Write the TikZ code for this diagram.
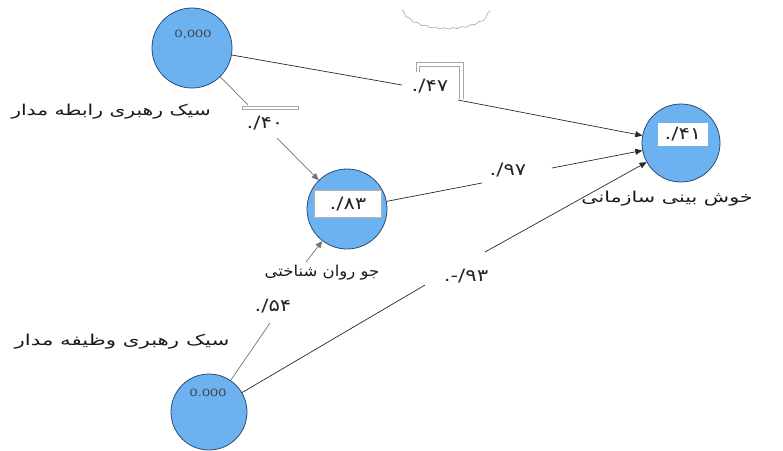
\documentclass[tikz,border=0pt]{standalone}
\usepackage{fontspec}
\newfontfamily\fa[Script=Arabic]{DejaVu Sans}
\newfontfamily\fanum{DejaVu Sans}
\TeXXeTstate=1
\usetikzlibrary{arrows.meta,decorations.pathmorphing}
\definecolor{cfill}{RGB}{108,178,240}
\definecolor{cdraw}{RGB}{45,75,115}
\definecolor{lline}{RGB}{40,40,40}
\newcommand{\cf}[1]{\scalebox{1.25}[1]{#1}}
\newcommand{\vl}[1]{\scalebox{1.5}[1]{#1}}
\tikzset{
  latent/.style={circle, minimum size=80pt, inner sep=0pt, fill=cfill, draw=cdraw, line width=0.8pt},
  lab/.style={font=\fa\fontsize{15}{17}\selectfont, inner sep=0pt, text=black!90},
  coef/.style={font=\fanum\fontsize{17}{19}\selectfont, inner sep=0pt, text=black!85},
  val/.style={font=\sffamily\fontsize{11}{12}\selectfont, inner sep=0pt, text=black!75},
  conn/.style={draw=lline, line width=0.7pt},
  arr/.style={conn, -{Triangle[length=7pt,width=6pt]}},
  ghost/.style={draw=black!35, line width=0.6pt}
}
\begin{document}
\begin{tikzpicture}[x=1pt,y=-1pt]
\useasboundingbox (0,0) rectangle (783,450);
% faint background cloud arc
\draw[ghost, decorate, decoration={snake, amplitude=0.7pt, segment length=9pt}]
  (402,10) .. controls (414,32) and (478,32) .. (490,10);
% latent variables
\node[latent] (A) at (192,48) {};
\node[latent, minimum size=76pt] (B) at (209,412) {};
\node[latent] (M) at (347,209) {};
\node[latent, minimum size=78pt] (T) at (681,143) {};
% inner values
\node[val] (vA) at (193,34) {\vl{0,000}};
\node[val] (vB) at (208,393) {\vl{0.000}};
\node[fill=white, draw=black!30, line width=0.3pt, minimum width=67pt, minimum height=27pt, inner sep=0pt] (bM) at (348,204) {};
\node[coef] (vM) at (348,204) {\cf{./۸۳}};
\node[fill=white, minimum width=50pt, minimum height=23pt, inner sep=0pt] (bT) at (683,134) {};
\node[coef] (vT) at (683,134) {\cf{./۴۱}};
% names
\node[lab] (labA) at (111,112) {\scalebox{1.35}[1]{\beginR سیک رهبری رابطه مدار\endR}};
\node[lab] (labB) at (122,342) {\scalebox{1.42}[1]{\beginR سیک رهبری وظیفه مدار\endR}};
\node[lab] (labM) at (322,273) {\scalebox{1.1}[1]{\beginR جو روان شناختی\endR}};
\node[lab] (labT) at (667,199) {\scalebox{1.38}[1]{\beginR خوش بینی سازمانی\endR}};
% label frames
\draw[ghost, fill=white] (242,106.5) rectangle (298,109.5);
\draw[ghost] (416,72) -- (416,62) -- (463,62) -- (463,99);
\draw[ghost] (419,72) -- (419,66) -- (459,66) -- (459,99);
% coefficients
\node[coef] (c1) at (430,86) {\cf{./۴۷}};
\node[coef] (c2) at (265,123) {\cf{./۴۰}};
\node[coef] (c3) at (508,170) {\cf{./۹۷}};
\node[coef] (c4) at (466,276) {\cf{.-/۹۳}};
\node[coef] (c5) at (273,306) {\cf{./۵۴}};
% break points
\coordinate (p1) at (402,85);  \coordinate (q1) at (458,100);
\coordinate (p2) at (248,105); \coordinate (q2) at (277,138);
\coordinate (p3) at (482,183); \coordinate (q3) at (552,168);
\coordinate (p4) at (425,285); \coordinate (q4) at (485,252);
\coordinate (p5) at (270,323); \coordinate (q5) at (306,262);
% connectors
\draw[conn] (A) -- (p1);
\draw[arr] (q1) -- (T);
\draw[conn, draw=black!55] (A) -- (p2);
\draw[arr, draw=black!55] (q2) -- (M);
\draw[conn] (M) -- (p3);
\draw[arr] (q3) -- (T);
\draw[conn] (B) -- (p4);
\draw[arr] (q4) -- (T);
\draw[conn, draw=black!55] (B) -- (p5);
\draw[arr, draw=black!55] (q5) -- (M);
\end{tikzpicture}
\end{document}
